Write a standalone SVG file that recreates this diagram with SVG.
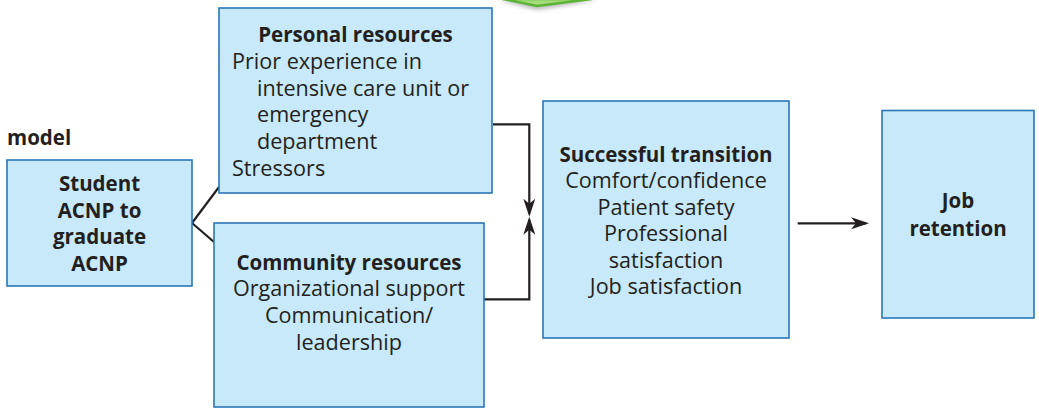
<svg xmlns="http://www.w3.org/2000/svg" width="1039" height="408" viewBox="0 0 1039 408">
<style>
.box{fill:#c7e9f9;stroke:#2a76b6;stroke-width:1.6}
.t{font-family:"Open Sans","Liberation Sans",Arial,sans-serif;font-size:21.6px;fill:#231f20}
.b{font-weight:bold;font-size:20.5px}
.c{text-anchor:middle}
.ln{fill:none;stroke:#231f20;stroke-width:2.2}
</style>
<defs>
<marker id="ah" viewBox="-15 -6 18 12" refX="0" refY="0" markerWidth="18" markerHeight="12" markerUnits="userSpaceOnUse" orient="auto">
<path d="M3,0 L-15,-6 L-10,0 L-15,6 Z" fill="#231f20"/>
</marker>
<filter id="sh" x="-20%" y="-100%" width="140%" height="400%">
<feGaussianBlur stdDeviation="2"/>
</filter>
</defs>
<g id="green-shape">
<polygon points="498,0 537,10 598,0" fill="#8a8a8a" opacity="0.6" filter="url(#sh)"/>
<polygon points="503,-1 537,6 592,-1" fill="#a5dc7a" stroke="#5cb336" stroke-width="2.5"/>
</g>
<text class="t b" x="7" y="145">model</text>
<g id="connectors">
<path class="ln" d="M192,223 L219,187"/>
<path class="ln" d="M192,223 L214,242"/>
<path class="ln" d="M493,124.3 H529.3 V213.7" marker-end="url(#ah)"/>
<path class="ln" d="M484,299.3 H529.3 V219.7" marker-end="url(#ah)"/>
<path class="ln" d="M797.7,223.3 H866" marker-end="url(#ah)"/>
</g>
<g id="student">
<rect class="box" x="7" y="160" width="185" height="126"/>
<text class="t b c" x="99.5" y="191">Student</text>
<text class="t b c" x="99.5" y="217.7">ACNP to</text>
<text class="t b c" x="99.5" y="244.4">graduate</text>
<text class="t b c" x="99.5" y="271">ACNP</text>
</g>
<g id="personal">
<rect class="box" x="219" y="8" width="273" height="185"/>
<text class="t b c" x="355.5" y="42">Personal resources</text>
<text class="t" x="232" y="68.8">Prior experience in</text>
<text class="t" x="257" y="95.5">intensive care unit or</text>
<text class="t" x="257" y="122.2">emergency</text>
<text class="t" x="257" y="149">department</text>
<text class="t" x="232" y="175.7">Stressors</text>
</g>
<g id="community">
<rect class="box" x="214" y="223" width="270" height="184"/>
<text class="t b c" x="349" y="269.5">Community resources</text>
<text class="t c" x="349" y="296.2">Organizational support</text>
<text class="t c" x="349" y="322.9">Communication/</text>
<text class="t c" x="349" y="349.6">leadership</text>
</g>
<g id="transition">
<rect class="box" x="543" y="101" width="246" height="237"/>
<text class="t b c" x="666" y="161.5">Successful transition</text>
<text class="t c" x="666" y="188">Comfort/confidence</text>
<text class="t c" x="666" y="214.5">Patient safety</text>
<text class="t c" x="666" y="241">Professional</text>
<text class="t c" x="666" y="267.5">satisfaction</text>
<text class="t c" x="666" y="294">Job satisfaction</text>
</g>
<g id="retention">
<rect class="box" x="882" y="110.5" width="152" height="207.5"/>
<text class="t b c" x="958" y="208.3">Job</text>
<text class="t b c" x="958" y="235.7">retention</text>
</g>
</svg>
